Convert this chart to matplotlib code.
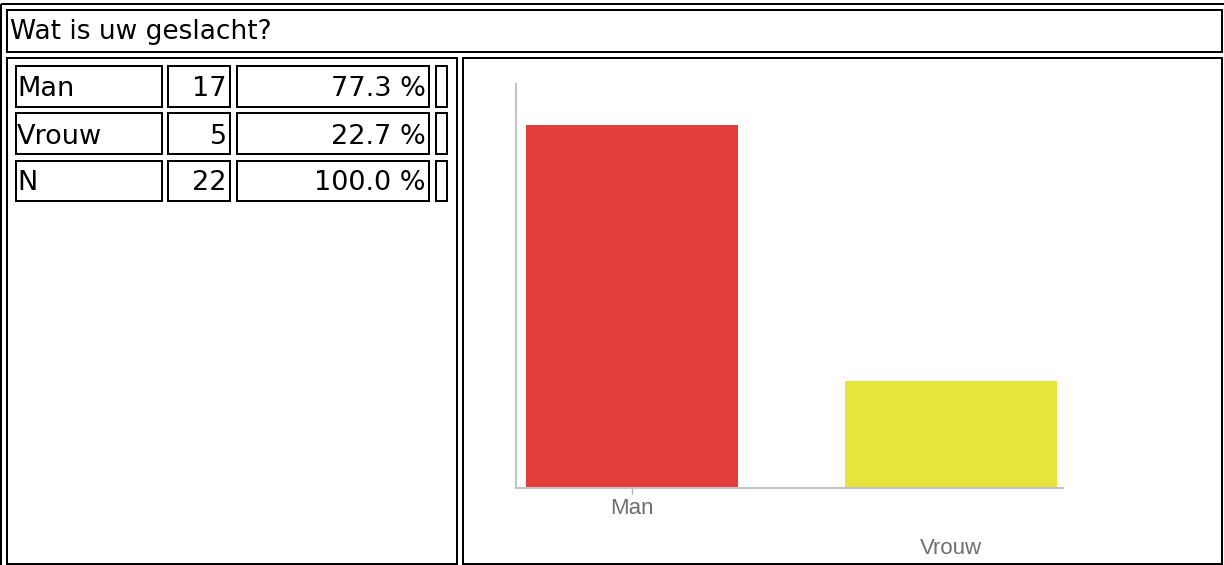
import matplotlib
matplotlib.use("Agg")
import matplotlib.pyplot as plt
from matplotlib.patches import Rectangle

# data
title = "Wat is uw geslacht?"
categories = ["Man", "Vrouw"]
counts = [17, 5]
percents = ["77.3 %", "22.7 %"]
total_label = "N"
total_count = 22
total_percent = "100.0 %"
bar_colors = ["#e53c3c", "#e5e53a"]

W, H = 1224, 565
fig = plt.figure(figsize=(W / 100, H / 100), dpi=100)

# page axes in pixel coords (html table look)
page = fig.add_axes([0, 0, 1, 1])
page.set_xlim(0, W)
page.set_ylim(H, 0)
page.axis("off")

LW = 1.44  # 2px
FS = 19.5


def box(x0, y0, x1, y1):
    page.add_patch(Rectangle((x0, y0), x1 - x0, y1 - y0, fill=False,
                             ec="black", lw=LW, antialiased=False))


# outer table + cells
box(1, 4, W + 3, H + 3)
box(7, 10, 1222, 52)
box(7, 58, 457, 564)
box(463, 58, 1222, 564)

page.text(10, 39, title, fontsize=FS - 0.5, family="DejaVu Sans", va="baseline")

# small table on the left
cols = [(16, 162), (168, 230), (237, 429), (436, 447)]
rows = [(66, 107), (113, 154), (161, 201)]
table_rows = [(c, str(n), p) for c, n, p in zip(categories, counts, percents)]
table_rows.append((total_label, str(total_count), total_percent))

for (y0, y1), (lab, n, p) in zip(rows, table_rows):
    for x0, x1 in cols:
        box(x0, y0, x1, y1)
    base = y1 - 10.5
    page.text(cols[0][0] + 1, base, lab, fontsize=FS, va="baseline")
    page.text(cols[1][1] - 3, base, n, fontsize=FS, va="baseline", ha="right")
    page.text(cols[2][1] - 3, base, p, fontsize=FS, va="baseline", ha="right")

# bar chart
ax_l, ax_r, ax_t, ax_b = 516, 1063, 84, 488
ax = fig.add_axes([ax_l / W, (H - ax_b) / H, (ax_r - ax_l) / W, (ax_b - ax_t) / H])
ax.set_facecolor("none")
x = list(range(len(categories)))
ax.bar(x, counts, width=0.665, color=bar_colors)
ax.set_xlim(-0.364, 1.351)
ax.set_ylim(0, 18.9)

for s in ["top", "right"]:
    ax.spines[s].set_visible(False)
for s in ["left", "bottom"]:
    ax.spines[s].set_color("#c4c4c4")
    ax.spines[s].set_linewidth(1.5)
ax.set_yticks([])
ax.set_xticks(x)
ax.set_xticklabels(categories, fontsize=16, color="#6f6f6f", family="Liberation Sans")
ax.tick_params(axis="x", length=4, width=1, color="#b0b0b0", pad=3.5)
for i, t in enumerate(ax.xaxis.get_major_ticks()):
    if i % 2:
        t.set_pad(32.3)
        t.tick1line.set_visible(False)

fig.savefig("out.png", dpi=100)
